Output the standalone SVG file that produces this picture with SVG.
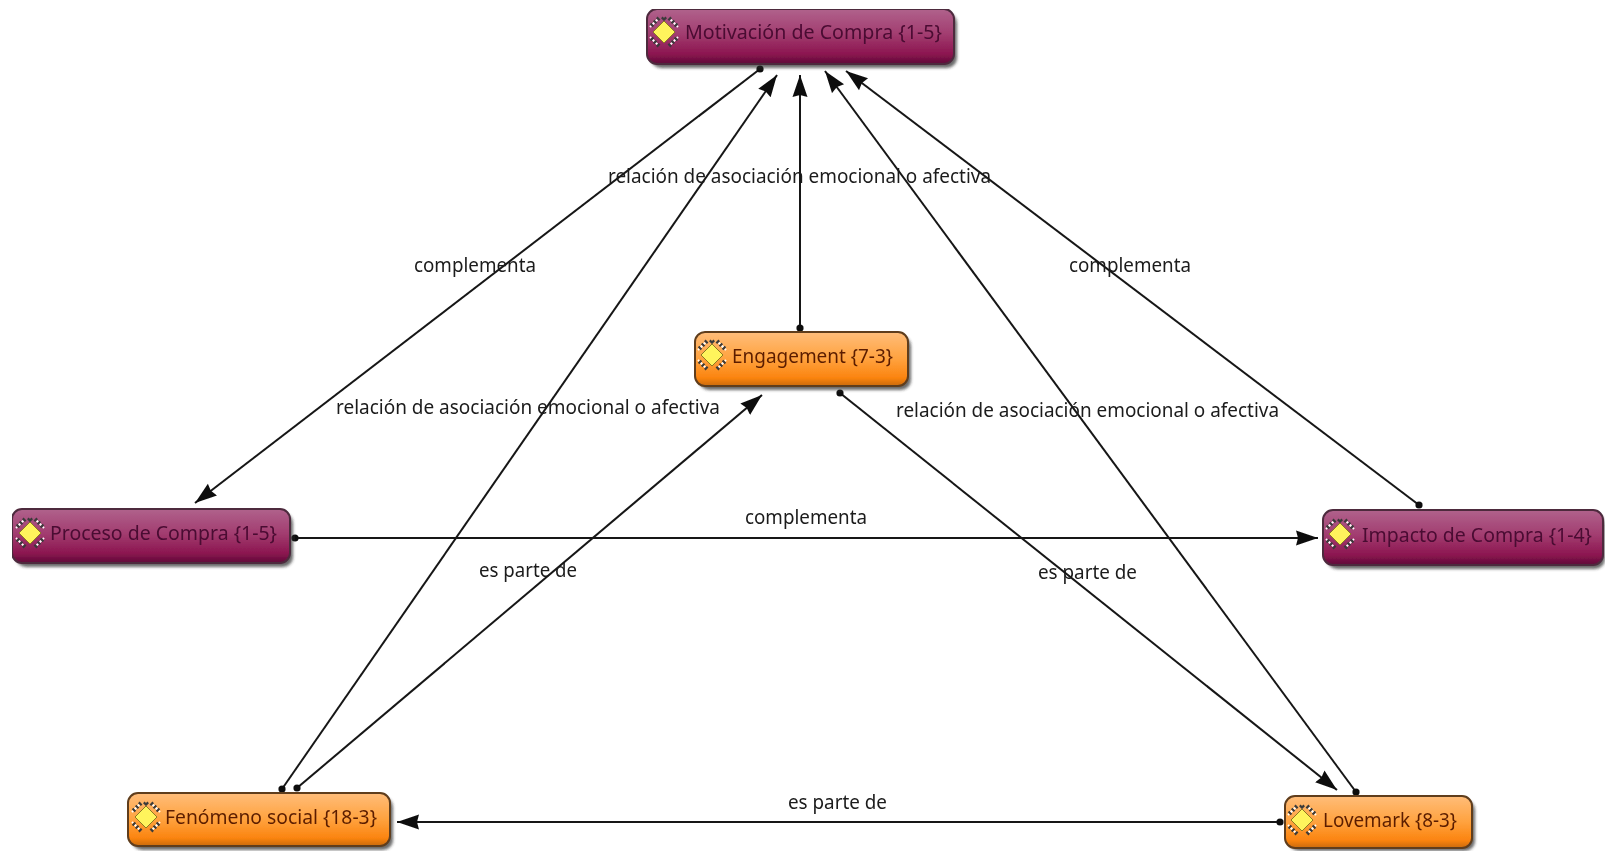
<svg xmlns="http://www.w3.org/2000/svg" xmlns:xlink="http://www.w3.org/1999/xlink" width="1607" height="851" viewBox="0 0 1607 851">
<style>
.box{stroke-width:2}
.purple .box{fill:url(#gp);stroke:#4d2a3e}
.orange .box{fill:url(#go);stroke:#5e3c1c}
.shadow{fill:#2c2c2c;opacity:.7;filter:url(#sb)}
text{font-family:"Noto Sans","DejaVu Sans",sans-serif}
.name{font-size:20px}
.purple .name{fill:#4a0a32}
.orange .name{fill:#5c1f00}
.lab{font-size:19.5px;fill:#1a1a1a}
.c{fill:none;stroke:#141414;stroke-width:2;marker-start:url(#dot);marker-end:url(#arr)}
</style>
<defs>
<linearGradient id="gp" x1="0" y1="0" x2="0" y2="1"><stop offset="0" stop-color="#b0628c"/><stop offset=".45" stop-color="#a23d70"/><stop offset=".82" stop-color="#8c1650"/><stop offset="1" stop-color="#5e0a38"/></linearGradient>
<linearGradient id="go" x1="0" y1="0" x2="0" y2="1"><stop offset="0" stop-color="#ffbd7a"/><stop offset=".5" stop-color="#ffa23e"/><stop offset=".85" stop-color="#fb8410"/><stop offset="1" stop-color="#c96a10"/></linearGradient>
<filter id="sb" x="-5%" y="-20%" width="110%" height="140%"><feGaussianBlur stdDeviation="1.8"/></filter>
<filter id="soft" x="0" y="0" width="100%" height="100%"><feGaussianBlur stdDeviation="0.55"/></filter>
<marker id="arr" markerUnits="userSpaceOnUse" markerWidth="24" markerHeight="18" refX="22" refY="8" orient="auto"><path d="M0 0.5L22 8L0 15.5L2 8Z" fill="#111"/></marker>
<marker id="dot" markerUnits="userSpaceOnUse" markerWidth="9" markerHeight="9" refX="4.5" refY="4.5"><circle cx="4.5" cy="4.5" r="3.6" fill="#111"/></marker>
<g id="icon">
<path d="M-5-14L-14-5M5-14L14-5M-5 14L-14 5M5 14L14 5M0-14L-3-11M0-14L3-11" fill="none" stroke="#3a3a3a" stroke-width="4" stroke-dasharray="2.2 2.2"/>
<path d="M-5-14L-14-5M5-14L14-5M-5 14L-14 5M5 14L14 5" fill="none" stroke="#fff" stroke-width="2" stroke-dasharray="2 2.4" stroke-dashoffset="2"/>
<path d="M0-11L11 0L0 11L-11 0Z" fill="#fff45c" stroke="#8a7a20" stroke-width="1"/>
</g>
</defs>
<rect width="1607" height="851" fill="#fff"/>
<g filter="url(#soft)">
<g id="connectors">
<path class="c" d="M760 69L195 503"/>
<path class="c" d="M282 789L777 75"/>
<path class="c" d="M800 328L800 75"/>
<path class="c" d="M1356 792L825 71"/>
<path class="c" d="M1419 505L846 71"/>
<path class="c" d="M297 788L762 395"/>
<path class="c" d="M840 393L1337 790"/>
<path class="c" d="M295 538L1318 538"/>
<path class="c" d="M1280 822L397 822"/>
</g>
<g id="labels">
<text class="lab" x="608" y="183" textLength="383" lengthAdjust="spacingAndGlyphs">relación de asociación emocional o afectiva</text>
<text class="lab" x="414" y="272" textLength="122" lengthAdjust="spacingAndGlyphs">complementa</text>
<text class="lab" x="1069" y="272" textLength="122" lengthAdjust="spacingAndGlyphs">complementa</text>
<text class="lab" x="336" y="414" textLength="384" lengthAdjust="spacingAndGlyphs">relación de asociación emocional o afectiva</text>
<text class="lab" x="896" y="417" textLength="383" lengthAdjust="spacingAndGlyphs">relación de asociación emocional o afectiva</text>
<text class="lab" x="745" y="524" textLength="122" lengthAdjust="spacingAndGlyphs">complementa</text>
<text class="lab" x="479" y="577" textLength="98" lengthAdjust="spacingAndGlyphs">es parte de</text>
<text class="lab" x="1038" y="579" textLength="99" lengthAdjust="spacingAndGlyphs">es parte de</text>
<text class="lab" x="788" y="809" textLength="99" lengthAdjust="spacingAndGlyphs">es parte de</text>
</g>
<g id="motivacion" class="purple">
<rect class="shadow" x="651" y="13" width="306" height="55" rx="10"/>
<rect class="box" x="647" y="9" width="307" height="55" rx="10"/>
<use href="#icon" x="664" y="32"/>
<text class="name" x="685" y="39" textLength="257" lengthAdjust="spacingAndGlyphs">Motivación de Compra {1-5}</text>
</g>
<g id="proceso" class="purple">
<rect class="shadow" x="16" y="513" width="277" height="54" rx="10"/>
<rect class="box" x="12" y="509" width="278" height="54" rx="10"/>
<use href="#icon" x="30" y="533"/>
<text class="name" x="50" y="540" textLength="227" lengthAdjust="spacingAndGlyphs">Proceso de Compra {1-5}</text>
</g>
<g id="impacto" class="purple">
<rect class="shadow" x="1327" y="514" width="278" height="55" rx="10"/>
<rect class="box" x="1323" y="510" width="280" height="55" rx="10"/>
<use href="#icon" x="1340" y="534"/>
<text class="name" x="1362" y="542" textLength="230" lengthAdjust="spacingAndGlyphs">Impacto de Compra {1-4}</text>
</g>
<g id="engagement" class="orange">
<rect class="shadow" x="699" y="336" width="212" height="54" rx="10"/>
<rect class="box" x="695" y="332" width="213" height="54" rx="10"/>
<use href="#icon" x="712" y="355"/>
<text class="name" x="732" y="363" textLength="161" lengthAdjust="spacingAndGlyphs">Engagement {7-3}</text>
</g>
<g id="fenomeno" class="orange">
<rect class="shadow" x="132" y="797" width="261" height="53" rx="10"/>
<rect class="box" x="128" y="793" width="262" height="53" rx="10"/>
<use href="#icon" x="146" y="817"/>
<text class="name" x="165" y="824" textLength="212" lengthAdjust="spacingAndGlyphs">Fenómeno social {18-3}</text>
</g>
<g id="lovemark" class="orange">
<rect class="shadow" x="1289" y="800" width="186" height="51" rx="10"/>
<rect class="box" x="1285" y="796" width="187" height="52" rx="10"/>
<use href="#icon" x="1302" y="820"/>
<text class="name" x="1323" y="827" textLength="134" lengthAdjust="spacingAndGlyphs">Lovemark {8-3}</text>
</g>
</g>
</svg>
